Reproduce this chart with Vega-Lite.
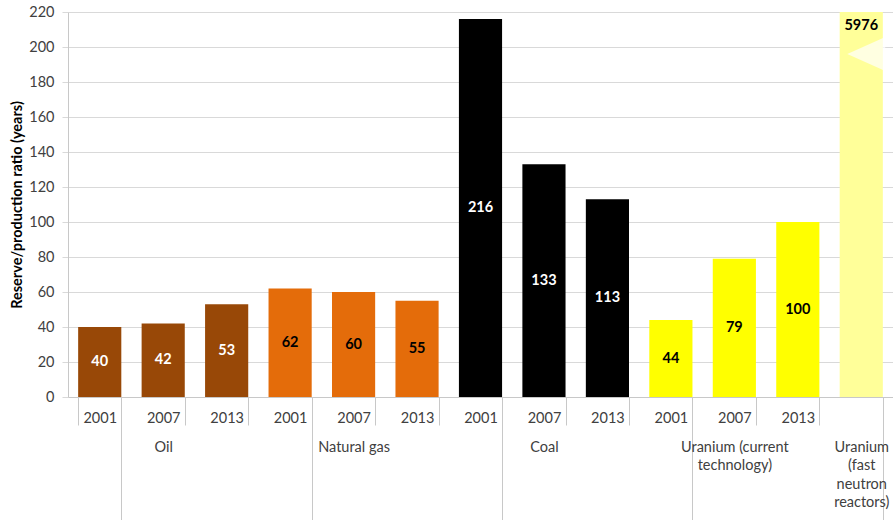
{
  "$schema": "https://vega.github.io/schema/vega-lite/v6.json",
  "autosize": {"type": "none"},
  "padding": {"left": 68, "top": 12, "right": 0, "bottom": 123},
  "width": 825,
  "height": 385,
  "background": "white",
  "config": {
    "view": {"stroke": null},
    "font": "Lato",
    "axis": {"labelFont": "Lato", "titleFont": "Lato"},
    "axisY": {
      "grid": true, "gridColor": "#d9d9d9", "domainColor": "#c8c8c8", "tickColor": "#d9d9d9", "tickSize": 6,
      "labelPadding": 8, "labelFontSize": 14.5, "labelColor": "#404040", "labelOverlap": false, "tickCount": 12,
      "titleFontWeight": "bold", "titleFontSize": 14.5, "titleColor": "black", "titlePadding": 4
    }
  },
  "data": {
    "values": [
      {"group": "Oil", "year": "2001", "value": 40},
      {"group": "Oil", "year": "2007", "value": 42},
      {"group": "Oil", "year": "2013", "value": 53},
      {"group": "Natural gas", "year": "2001", "value": 62},
      {"group": "Natural gas", "year": "2007", "value": 60},
      {"group": "Natural gas", "year": "2013", "value": 55},
      {"group": "Coal", "year": "2001", "value": 216},
      {"group": "Coal", "year": "2007", "value": 133},
      {"group": "Coal", "year": "2013", "value": 113},
      {"group": "Uranium (current technology)", "year": "2001", "value": 44},
      {"group": "Uranium (current technology)", "year": "2007", "value": 79},
      {"group": "Uranium (current technology)", "year": "2013", "value": 100},
      {"group": "Uranium (fast neutron reactors)", "year": "", "value": 5976}
    ]
  },
  "transform": [{"calculate": "datum.group + '|' + datum.year", "as": "slot"}],
  "resolve": {"axis": {"x": "independent"}},
  "layer": [
    {
      "mark": {"type": "bar"},
      "encoding": {
        "x": {
          "field": "slot", "type": "nominal",
          "scale": {
            "domain": ["Oil|2001", "Oil|2007", "Oil|2013", "Natural gas|2001", "Natural gas|2007", "Natural gas|2013", "Coal|2001", "Coal|2007", "Coal|2013", "Uranium (current technology)|2001", "Uranium (current technology)|2007", "Uranium (current technology)|2013", "Uranium (fast neutron reactors)|"],
            "paddingInner": 0.32, "paddingOuter": 0.16
          },
          "axis": {
            "orient": "bottom",
            "title": null, "grid": false, "labelAngle": 0, "labelOverlap": false,
            "labelExpr": "isString(datum.value) ? split(datum.value, '|')[1] : ''",
            "labelFontSize": 14.5, "labelColor": "#404040", "labelBaseline": "top", "labelPadding": -14,
            "tickBand": "extent", "tickSize": 28, "tickColor": "#c8c8c8", "domainColor": "#c8c8c8"
          }
        },
        "y": {
          "field": "value", "type": "quantitative",
          "title": "Reserve/production ratio (years)",
          "scale": {"domain": [0, 220], "clamp": true, "nice": false},
          "axis": {"orient": "left", "values": [0, 20, 40, 60, 80, 100, 120, 140, 160, 180, 200, 220]}
        },
        "color": {
          "field": "group", "type": "nominal",
          "scale": {
            "domain": ["Oil", "Natural gas", "Coal", "Uranium (current technology)", "Uranium (fast neutron reactors)"],
            "range": ["#984807", "#E46C0A", "#000000", "#FFFF00", "#FFFF99"]
          },
          "legend": null
        }
      }
    },
    {
      "transform": [{"filter": "datum.value < 220"}, {"calculate": "datum.value / 2", "as": "mid"}],
      "mark": {"type": "text", "fontWeight": "bold", "fontSize": 14.5, "font": "Lato"},
      "encoding": {
        "x": {
          "field": "slot", "type": "nominal",
          "axis": {
            "orient": "bottom",
            "title": null, "grid": false, "domain": false, "labelAngle": 0, "labelOverlap": false,
            "labelExpr": "!isString(datum.value) ? '' : indexof(datum.value, '|2007') >= 0 ? (indexof(datum.value, 'current') >= 0 ? ['Uranium (current', 'technology)'] : split(datum.value, '|')[0]) : (indexof(datum.value, 'fast') >= 0 ? ['Uranium', '(fast', 'neutron', 'reactors)'] : '')",
            "labelFontSize": 14.5, "labelColor": "#404040", "labelBaseline": "top", "labelPadding": -80, "labelLineHeight": 18.5,
            "tickBand": "extent", "tickSize": 123, "tickColor": "#c8c8c8",
            "tickOpacity": {
              "condition": {"test": "indexof(['Oil|2001', 'Natural gas|2001', 'Coal|2001', 'Uranium (current technology)|2001', 'Uranium (fast neutron reactors)|'], datum.value) >= 0", "value": 1},
              "value": 0
            }
          }
        },
        "y": {
          "field": "mid", "type": "quantitative", "title": "Reserve/production ratio (years)",
          "axis": {"orient": "left", "values": [0, 20, 40, 60, 80, 100, 120, 140, 160, 180, 200, 220]}
        },
        "text": {"field": "value"},
        "color": {
          "condition": {"test": "datum.group == 'Oil' || datum.group == 'Coal'", "value": "white"},
          "value": "black"
        }
      }
    },
    {
      "transform": [{"filter": "datum.value >= 220"}],
      "mark": {"type": "text", "fontWeight": "bold", "fontSize": 14.5, "font": "Lato", "baseline": "top", "dy": 7, "color": "black"},
      "encoding": {
        "x": {"field": "slot", "type": "nominal", "axis": null},
        "y": {
          "field": "value", "type": "quantitative", "title": "Reserve/production ratio (years)",
          "axis": {"orient": "left", "values": [0, 20, 40, 60, 80, 100, 120, 140, 160, 180, 200, 220]}
        },
        "text": {"field": "value"}
      }
    },
    {
      "transform": [{"filter": "datum.value >= 220"}],
      "mark": {"type": "point", "filled": true, "color": "white", "shape": "M1,-0.9L-1,0L1,0.9Z", "size": 1444, "xOffset": 5},
      "encoding": {
        "x": {"field": "slot", "type": "nominal", "axis": null},
        "y": {
          "datum": 196, "type": "quantitative", "title": "Reserve/production ratio (years)",
          "axis": {"orient": "left", "values": [0, 20, 40, 60, 80, 100, 120, 140, 160, 180, 200, 220]}
        }
      }
    }
  ]
}
